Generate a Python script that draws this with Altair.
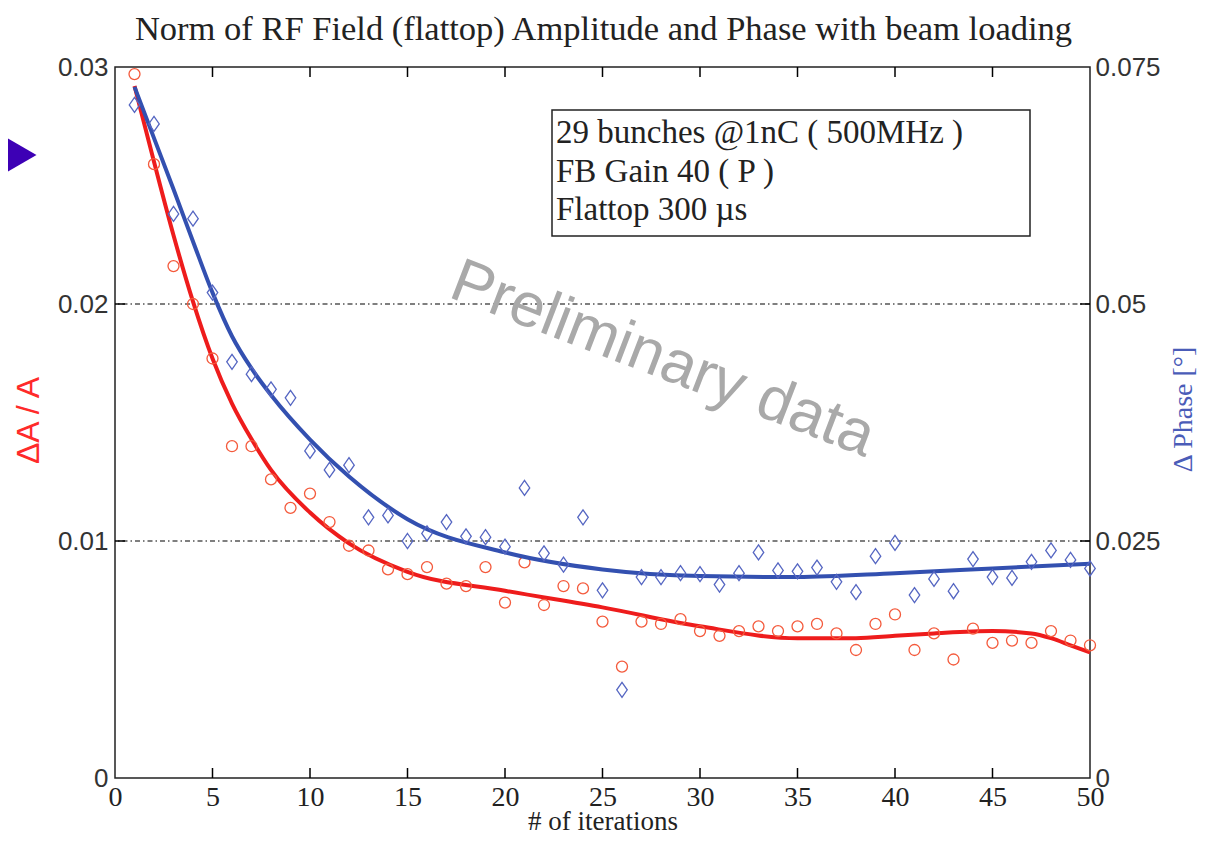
import altair as alt
import pandas as pd

# ---------------- data ----------------
iterations = list(range(1, 51))
amp = [0.0297, 0.0259, 0.0216, 0.0200, 0.0177, 0.0140, 0.0140, 0.0126, 0.0114, 0.0120,
       0.0108, 0.0098, 0.0096, 0.0088, 0.0086, 0.0089, 0.0082, 0.0081, 0.0089, 0.0074,
       0.0091, 0.0073, 0.0081, 0.0080, 0.0066, 0.0047, 0.0066, 0.0065, 0.0067, 0.0062,
       0.0060, 0.0062, 0.0064, 0.0062, 0.0064, 0.0065, 0.0061, 0.0054, 0.0065, 0.0069,
       0.0054, 0.0061, 0.0050, 0.0063, 0.0057, 0.0058, 0.0057, 0.0062, 0.0058, 0.0056]
phase = [0.0710, 0.0690, 0.0595, 0.0590, 0.0512, 0.0439, 0.0426, 0.0410, 0.0401, 0.0345,
         0.0325, 0.0330, 0.0275, 0.0277, 0.0250, 0.0258, 0.0270, 0.0255, 0.0254, 0.0244,
         0.0306, 0.0237, 0.0225, 0.0275, 0.0198, 0.0093, 0.0212, 0.0212, 0.0216, 0.0215,
         0.0204, 0.0216, 0.0238, 0.0219, 0.0218, 0.0222, 0.0207, 0.0196, 0.0234, 0.0248,
         0.0193, 0.0210, 0.0197, 0.0231, 0.0212, 0.0211, 0.0228, 0.0240, 0.0230, 0.0221]

amp_fit_x = [1, 2, 3, 4, 5, 6, 7, 8, 10, 12, 15, 20, 25, 30, 35, 38, 40, 42, 45, 47, 48, 49, 50]
amp_fit = [0.0292, 0.0260, 0.0229, 0.0201, 0.0177, 0.0158, 0.0143, 0.0130, 0.0112, 0.0099,
           0.0087, 0.0079, 0.0072, 0.0064, 0.0059, 0.0059, 0.0060, 0.0061, 0.0062,
           0.0061, 0.0059, 0.0056, 0.0053]
phase_fit_x = [1, 2, 3, 4, 5, 6, 7, 8, 10, 12, 15, 20, 25, 30, 35, 40, 45, 50]
phase_fit = [0.0729, 0.0675, 0.0621, 0.0566, 0.0512, 0.0466, 0.0432, 0.0404, 0.0357, 0.0318,
             0.0273, 0.0238, 0.0220, 0.0213, 0.0212, 0.0216, 0.0221, 0.0226]

x_ticks = [0, 5, 10, 15, 20, 25, 30, 35, 40, 45, 50]
amp_ticks = [0, 0.01, 0.02, 0.03]
phase_ticks = [0, 0.025, 0.05, 0.075]
grid_levels = [0.01, 0.02]

title_text = "Norm of RF Field (flattop) Amplitude and Phase with beam loading"
box_lines = ["29 bunches @1nC ( 500MHz )", "FB Gain 40 ( P )", "Flattop 300 \u00b5s"]
watermark = "Preliminary data"

# ---------------- styling ----------------
SERIF = "Liberation Serif"
SANS = "Liberation Sans"
W, H = 975, 711
RED_PT, RED_LN = "#f45a3c", "#ee1c1c"
BLUE_PT, BLUE_LN = "#5566c2", "#3350b0"

xs = alt.Scale(domain=[0, 50], nice=False, zero=False)
ys_amp = alt.Scale(domain=[0, 0.03], nice=False)
ys_ph = alt.Scale(domain=[0, 0.075], nice=False)

x_axis = alt.Axis(values=x_ticks, title="# of iterations", labelFont=SERIF, labelFontSize=28,
                  labelColor="#222", labelPadding=5, labelFlush=False, labelOverlap=False,
                  titleFont=SERIF, titleFontSize=27, titleFontWeight="normal", titleColor="#222",
                  titleY=51, titleBaseline="alphabetic", titleAlign="center", titleX=W / 2)
amp_axis = alt.Axis(values=amp_ticks, labelExpr="format(datum.value, '.3~f')", title="\u0394A / A",
                    labelFont=SANS, labelFontSize=26, labelColor="#333", labelPadding=7,
                    labelFlush=False, labelOverlap=False, titleFont=SANS, titleFontSize=32,
                    titleFontWeight="normal", titleColor="#ff2a2a", titleAngle=270, titleX=-87,
                    titleY=353, titleAlign="center", titleBaseline="middle")
ph_axis = alt.Axis(values=phase_ticks, labelExpr="format(datum.value, '.3~f')", orient="right",
                   title="\u0394 Phase [\u00b0]", labelFont=SANS, labelFontSize=26,
                   labelColor="#333", labelPadding=5, labelFlush=False, labelOverlap=False,
                   titleFont=SERIF, titleFontSize=28, titleFontWeight="normal",
                   titleColor="#4a5cb8", titleAngle=270, titleX=93, titleY=342,
                   titleAlign="center", titleBaseline="middle")

X = alt.X("iter:Q", scale=xs, axis=x_axis)

pts = pd.DataFrame({"iter": iterations, "amp": amp, "phase": phase})
amp_fit_df = pd.DataFrame({"iter": amp_fit_x, "amp": amp_fit})
ph_fit_df = pd.DataFrame({"iter": phase_fit_x, "phase": phase_fit})
grid_df = pd.DataFrame({"amp": grid_levels})
xt_df = pd.DataFrame({"iter": x_ticks[1:-1]})
one = pd.DataFrame({"k": [0]})


def Y_amp(f):
    return alt.Y(f"{f}:Q", scale=ys_amp, axis=amp_axis)


grid = alt.Chart(grid_df).mark_rule(color="black", strokeWidth=1.2, strokeDash=[5, 3, 1.5, 3]).encode(
    y=Y_amp("amp"))
lticks = alt.Chart(grid_df).mark_rule(color="black", strokeWidth=1.5).encode(
    y=Y_amp("amp"), x=alt.value(0), x2=alt.value(10))
rticks = alt.Chart(grid_df).mark_rule(color="black", strokeWidth=1.5).encode(
    y=Y_amp("amp"), x=alt.value(W - 10), x2=alt.value(W))
bticks = alt.Chart(xt_df).mark_rule(color="black", strokeWidth=1.5).encode(
    x=X, y=alt.value(H), y2=alt.value(H - 10))
tticks = alt.Chart(xt_df).mark_rule(color="black", strokeWidth=1.5).encode(
    x=X, y=alt.value(0), y2=alt.value(10))

title = alt.Chart(one).mark_text(font=SERIF, fontSize=34.5, color="#222", align="center",
                                 baseline="alphabetic").encode(
    x=alt.value(W / 2 + 1), y=alt.value(-27), text=alt.value(title_text))

wm = alt.Chart(one).mark_text(font=SANS, fontSize=62, color="#a9a9a9", angle=21,
                              align="center", baseline="middle").encode(
    x=alt.value(548), y=alt.value(292), text=alt.value(watermark))

box = alt.Chart(one).mark_rect(fill="white", stroke="#222", strokeWidth=1.5).encode(
    x=alt.value(437), x2=alt.value(915), y=alt.value(43), y2=alt.value(169))
box_text = alt.Chart(one).mark_text(font=SERIF, fontSize=33, color="#222", align="left",
                                    baseline="alphabetic", lineHeight=38.5).encode(
    x=alt.value(441), y=alt.value(76), text=alt.value(box_lines))

tri = alt.Chart(one).mark_point(shape="triangle-right", filled=True, opacity=1,
                                color="#3d00b5", size=3200).encode(
    x=alt.value(-103), y=alt.value(88))

amp_line = alt.Chart(amp_fit_df).mark_line(color=RED_LN, strokeWidth=4, interpolate="monotone").encode(
    x=X, y=Y_amp("amp"))
amp_pts = alt.Chart(pts).mark_point(shape="circle", size=121, color=RED_PT, strokeWidth=1.3,
                                    filled=False, opacity=1).encode(x=X, y=Y_amp("amp"))

Y_ph = alt.Y("phase:Q", scale=ys_ph, axis=ph_axis)
ph_line = alt.Chart(ph_fit_df).mark_line(color=BLUE_LN, strokeWidth=4, interpolate="monotone").encode(
    x=X, y=Y_ph)
ph_pts = alt.Chart(pts).mark_point(shape="M0,-1L0.7,0L0,1L-0.7,0Z", size=225, color=BLUE_PT,
                                   strokeWidth=1.3, filled=False, opacity=1).encode(x=X, y=Y_ph)

left = alt.layer(grid, lticks, rticks, bticks, tticks, wm, box, box_text, tri, title,
                 amp_line, amp_pts)
right = alt.layer(ph_line, ph_pts)

chart = alt.layer(left, right).resolve_scale(y="independent").properties(
    width=W, height=H,
    padding={"left": 107, "top": 59, "right": 107, "bottom": 56},
    autosize=alt.AutoSizeParams(type="none"),
    background="white",
).configure_view(stroke="#222", strokeWidth=1.5).configure_axis(
    domain=False, ticks=False, grid=False)

chart.save("out.html", embed_options={"renderer": "svg", "actions": False})
